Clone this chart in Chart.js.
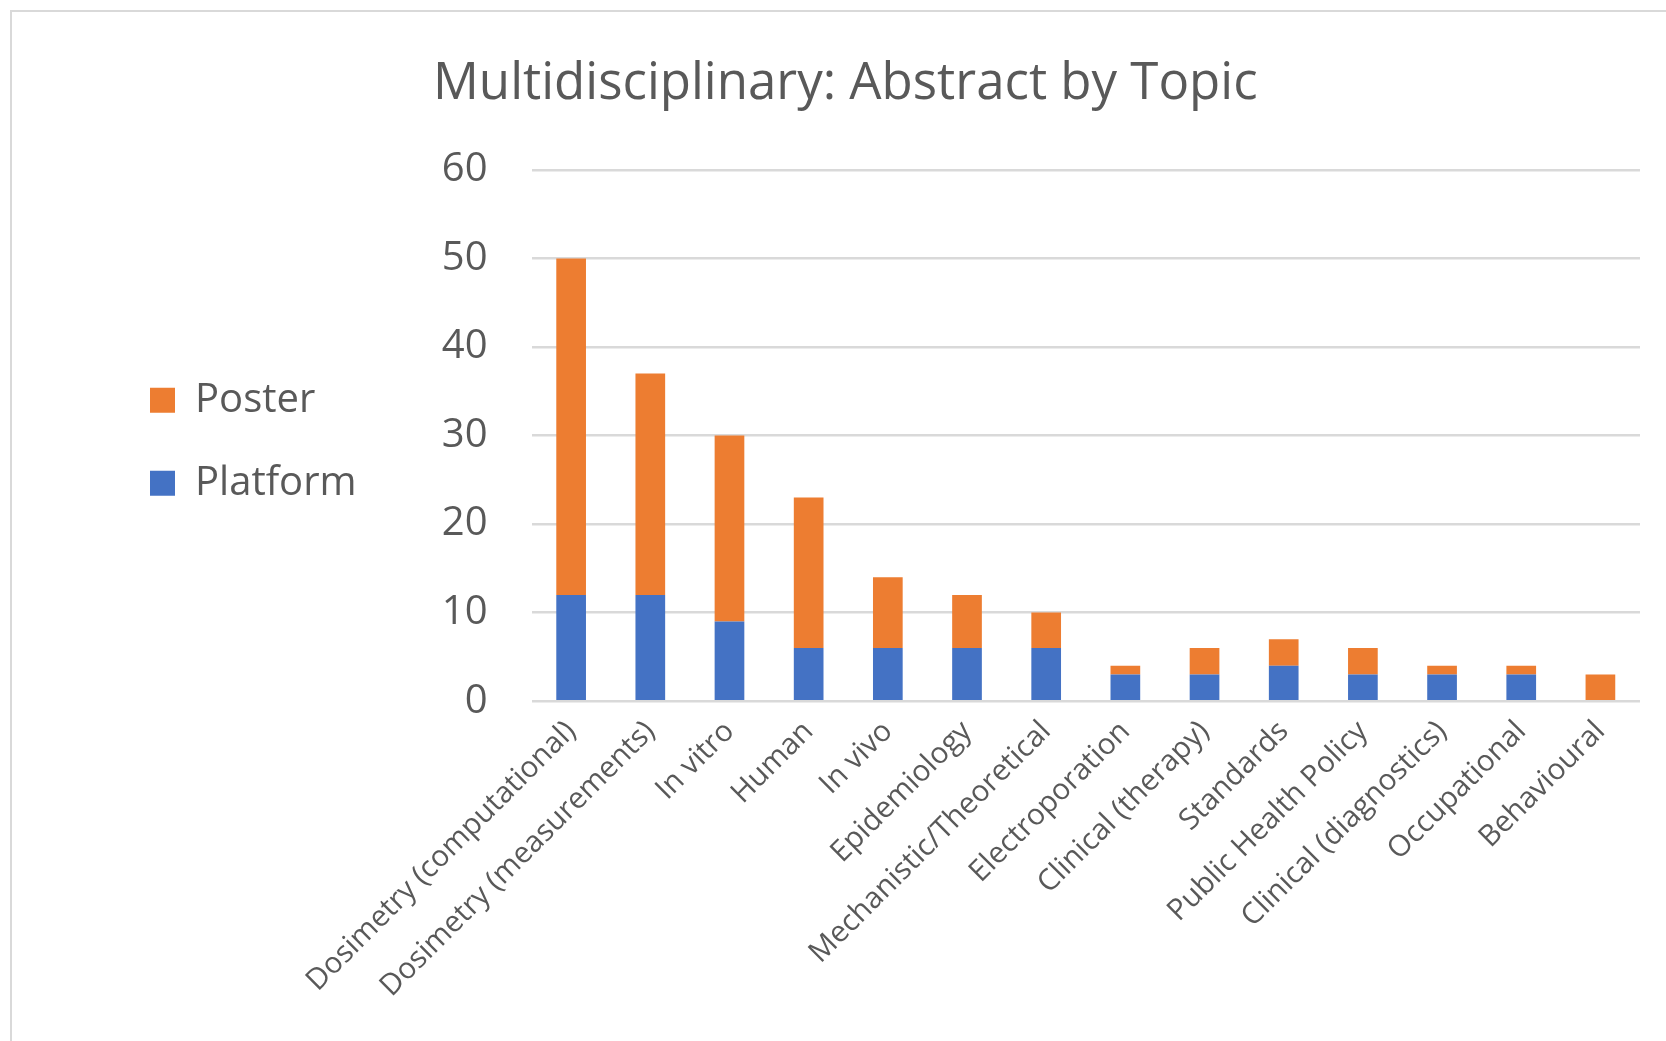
<!DOCTYPE html>
<html>
<head>
<meta charset="utf-8">
<script src="https://cdn.jsdelivr.net/npm/chart.js@4"></script>
<style>
  html, body { margin: 0; padding: 0; background: #fff; overflow: hidden; }
  #wrap { position: absolute; left: 0; top: 0; width: 1666px; height: 1041px; }
  #frame { position: absolute; left: 10px; top: 10px; width: 2000px; height: 2000px; border: 2px solid #d9d9d9; }
  #title { position: absolute; left: 433px; top: 44px; font-family: "Open Sans", sans-serif; font-size: 51px; color: #595959; white-space: nowrap; }
</style>
</head>
<body>
<div id="frame"></div>
<div id="wrap"><canvas id="myChart"></canvas></div>
<div id="title">Multidisciplinary: Abstract by Topic</div>
<script>
const topics = [
  'Dosimetry (computational)',
  'Dosimetry (measurements)',
  'In vitro',
  'Human',
  'In vivo',
  'Epidemiology',
  'Mechanistic/Theoretical',
  'Electroporation',
  'Clinical (therapy)',
  'Standards',
  'Public Health Policy',
  'Clinical (diagnostics)',
  'Occupational',
  'Behavioural',
]

const platform = [12, 12, 9, 6, 6, 6, 6, 3, 3, 4, 3, 3, 3, 0]
const poster = [38, 25, 21, 17, 8, 6, 4, 1, 3, 3, 3, 1, 1, 3]

const textGrey = '#595959'
const fontFamily = '"Open Sans", sans-serif'

const data = {
  labels: topics,
  datasets: [
    {
      label: 'Platform',
      data: platform,
      backgroundColor: '#4472C4',
      barPercentage: 0.75,
      categoryPercentage: 0.5,
    },
    {
      label: 'Poster',
      data: poster,
      backgroundColor: '#ED7D31',
      barPercentage: 0.75,
      categoryPercentage: 0.5,
    },
  ],
}

const config = {
  type: 'bar',
  data: data,
  options: {
    responsive: true,
    maintainAspectRatio: false,
    animation: false,
    layout: {
      padding: { left: 107, right: 26, top: 170, bottom: 32 },
    },
    scales: {
      x: {
        stacked: true,
        grid: { display: false },
        border: { display: false },
        ticks: {
          color: textGrey,
          font: { family: fontFamily, size: 29.5 },
          maxRotation: 45,
          minRotation: 45,
          autoSkip: false,
          padding: 5,
        },
      },
      y: {
        stacked: true,
        min: 0,
        max: 60,
        border: { display: false },
        grid: { color: '#d9d9d9', lineWidth: 2.5, drawTicks: false },
        ticks: {
          stepSize: 10,
          color: textGrey,
          font: { family: fontFamily, size: 40 },
          padding: 44,
        },
        afterFit: (scale) => { scale.width = 165 },
      },
    },
    plugins: {
      legend: {
        position: 'left',
        fullSize: false,
        reverse: true,
        // empty title just nudges the legend items down a little
        title: { display: true, text: ' ', font: { size: 2 }, padding: { top: 10, bottom: 0 } },
        labels: {
          color: textGrey,
          font: { family: fontFamily, size: 40 },
          boxWidth: 25,
          boxHeight: 25,
          padding: 43,
        },
      },
      tooltip: { enabled: false },
    },
  },
}

var myChart = new Chart(document.getElementById('myChart'), config)
</script>
</body>
</html>
